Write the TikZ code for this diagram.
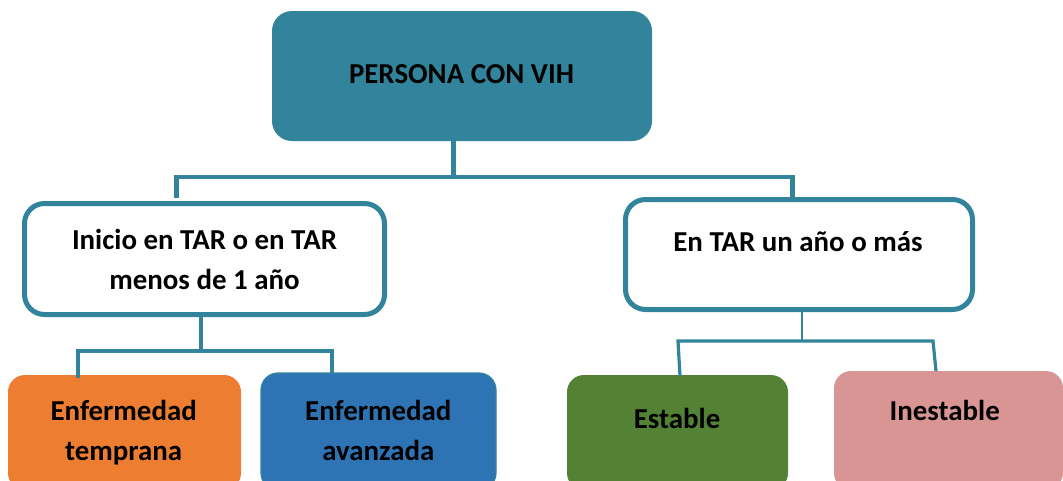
\documentclass[tikz,border=0pt]{standalone}
\usepackage{fontspec}
\setmainfont{Carlito}
\definecolor{vihteal}{RGB}{49,132,155}
\definecolor{vihorange}{RGB}{237,125,49}
\definecolor{vihblue}{RGB}{46,116,181}
\definecolor{vihgreen}{RGB}{84,130,53}
\definecolor{vihpink}{RGB}{217,149,148}
\begin{document}
\begin{tikzpicture}[x=1pt,y=-1pt,
  box/.style={rectangle, rounded corners=20pt, inner sep=0pt, outer sep=0pt},
  lowbox/.style={rectangle, rounded corners=17pt, inner sep=0pt, outer sep=0pt},
  midbox/.style={box, draw=vihteal, line width=5pt, fill=white},
  txt/.style={font=\bfseries\fontsize{28.9}{40}\selectfont, inner sep=0pt, anchor=base, align=center, text=black},
  conn/.style={draw=vihteal, line width=4.5pt},
]
\useasboundingbox (0,0) rectangle (1063,480);
\clip (0,0) rectangle (1063,480);

% boxes
\node[box, fill=vihteal, minimum width=380pt, minimum height=130pt] (top) at (462,76) {};
\node[midbox, minimum width=360pt, minimum height=111pt] (inicio) at (204.5,259) {};
\node[midbox, minimum width=347pt, minimum height=110pt] (entar) at (799,254.5) {};
\node[lowbox, fill=vihorange, minimum width=233pt, minimum height=115pt] (temprana) at (124.5,432.5) {};
\node[lowbox, fill=vihblue, draw=vihteal, line width=1.2pt, minimum width=235pt, minimum height=117pt] (avanzada) at (378.5,431.5) {};
\node[lowbox, fill=vihgreen, minimum width=221pt, minimum height=115pt] (estable) at (677.5,432.5) {};
\node[lowbox, fill=vihpink, minimum width=229pt, minimum height=119pt] (inestable) at (948.5,430.5) {};

% texts (base of a two-line text is the baseline of its last line)
\node[txt] (tpersona) at (461.5,83) {PERSONA CON VIH};
\node[txt] (tinicio) at (204.5,289) {Inicio en TAR o en TAR\\menos de 1 año};
\node[txt] (tentar) at (798,251.7) {En TAR un año o más};
\node[txt] (ttemprana) at (123.7,460) {Enfermedad\\temprana};
\node[txt] (tavanzada) at (378.3,460) {Enfermedad\\avanzada};
\node[txt] (testable) at (677,428.3) {Estable};
\node[txt] (tinestable) at (944.7,420) {Inestable};

% top connectors
\coordinate (a1) at (453.5,177);
\coordinate (aL) at (176.5,177);
\coordinate (aR) at (792.5,177);
\coordinate (dL) at (176.5,197.5);
\coordinate (dR) at (792.5,197.5);
\draw[conn] (top.south -| a1) -- (a1);
\draw[conn] (dL) -- (aL) -- (aR) -- (dR);

% left lower connectors
\coordinate (b1) at (201.3,350.5);
\coordinate (bL) at (78.3,350.5);
\coordinate (bR) at (332,350.5);
\coordinate (eL) at (78.3,378);
\coordinate (eR) at (332,372.7);
\draw[conn, line width=4pt] (inicio.south -| b1) -- (b1);
\draw[conn, line width=4pt] (eL) -- (bL) -- (bR) -- (eR);

% right lower connectors
\coordinate (c1) at (802,341);
\coordinate (cL) at (678,341);
\coordinate (cR) at (933,341);
\coordinate (fL) at (680,376);
\coordinate (fR) at (936,371);
\draw[conn, line width=1.8pt] (entar.south -| c1) -- (c1);
\draw[conn, line width=3.2pt] (fL) -- (cL) -- (cR) -- (fR);
\end{tikzpicture}
\end{document}
